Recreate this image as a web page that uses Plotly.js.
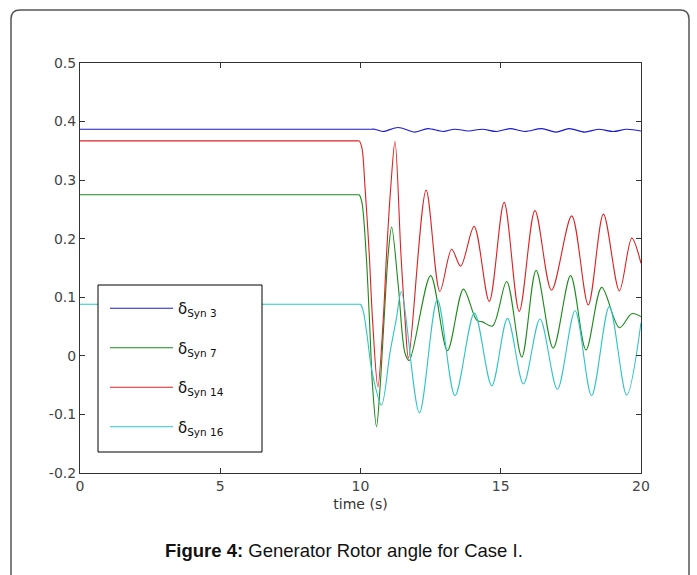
<!DOCTYPE html>
<html>
<head>
<meta charset="utf-8">
<script src="https://cdn.plot.ly/plotly-3.0.1.min.js"></script>
<style>html,body{margin:0;padding:0;background:#fff;}#chart{width:697px;height:575px;}</style>
</head>
<body>
<div id="chart"></div>
<script>
// ---- data ----
const seriesNames = ["δ<sub>Syn 3</sub>", "δ<sub>Syn 7</sub>", "δ<sub>Syn 14</sub>", "δ<sub>Syn 16</sub>"];

const tSyn3 = [0, 5, 10.4, 10.5, 10.8, 11.34, 11.94, 12.4, 12.95, 13.35, 13.85, 14.35, 14.85, 15.33, 15.86, 16.46, 16.97, 17.44, 18.0, 18.48, 19.01, 19.49, 20];
const dSyn3 = [0.387, 0.387, 0.387, 0.387, 0.383, 0.390, 0.382, 0.388, 0.383, 0.387, 0.384, 0.387, 0.383, 0.388, 0.383, 0.388, 0.382, 0.388, 0.382, 0.387, 0.383, 0.387, 0.384];

const tSyn7 = [0, 5, 9.9, 9.95, 10.05, 10.2, 10.32, 10.43, 10.57, 10.7, 10.84, 10.99, 11.11, 11.35, 11.59, 11.74, 12.5, 13.1, 13.67, 14.14, 14.35, 14.71, 15.21, 15.75, 16.26, 16.87, 17.49, 18.04, 18.6, 19.23, 19.67, 20];
const dSyn7 = [0.275, 0.275, 0.275, 0.275, 0.262, 0.175, 0.061, -0.052, -0.121, -0.052, 0.061, 0.175, 0.220, 0.118, 0.004, -0.008, 0.137, 0.009, 0.114, 0.061, 0.058, 0.051, 0.127, -0.002, 0.146, 0.013, 0.137, 0.010, 0.117, 0.048, 0.072, 0.067];

const tSyn14 = [0, 5, 9.9, 9.95, 10.05, 10.16, 10.31, 10.43, 10.62, 10.81, 10.93, 11.08, 11.23, 11.44, 11.59, 11.71, 12.34, 12.83, 13.25, 13.57, 14.05, 14.59, 15.12, 15.66, 16.22, 16.81, 17.53, 18.12, 18.66, 19.23, 19.67, 20];
const dSyn14 = [0.367, 0.367, 0.367, 0.367, 0.355, 0.289, 0.175, 0.061, -0.053, 0.061, 0.175, 0.289, 0.366, 0.175, 0.061, -0.004, 0.283, 0.110, 0.182, 0.153, 0.221, 0.093, 0.262, 0.076, 0.248, 0.112, 0.239, 0.087, 0.242, 0.111, 0.201, 0.158];

const tSyn16 = [0, 5, 9.95, 10.0, 10.1, 10.24, 10.4, 10.75, 11.05, 11.27, 11.46, 12.1, 12.74, 13.37, 14.06, 14.68, 15.24, 15.81, 16.4, 17.02, 17.65, 18.24, 18.87, 19.49, 20];
const dSyn16 = [0.088, 0.088, 0.088, 0.088, 0.076, 0.033, -0.024, -0.084, 0.005, 0.061, 0.110, -0.097, 0.096, -0.068, 0.073, -0.051, 0.064, -0.048, 0.063, -0.057, 0.077, -0.068, 0.084, -0.067, 0.057];

const xTickVals = [0, 5, 10, 15, 20];
const xTickText = ["0", "5", "10", "15", "20"];
const yTickVals = [-0.2, -0.1, 0, 0.1, 0.2, 0.3, 0.4, 0.5];
const yTickText = ["-0.2", "-0.1", "0", "0.1", "0.2", "0.3", "0.4", "0.5"];

const colors = ["#1a1ad0", "#1a8a1a", "#e02020", "#2ec4c4"];

// ---- build traces ----
const xs = [tSyn3, tSyn7, tSyn14, tSyn16];
const ys = [dSyn3, dSyn7, dSyn14, dSyn16];
const traces = xs.map((x, i) => ({
  x: x, y: ys[i], type: "scatter", mode: "lines", name: seriesNames[i],
  legendgroup: "g" + i,
  line: {color: colors[i], width: 1.1, shape: "spline", smoothing: 0.9}
}));

// pixel -> paper helpers
const W = 697, H = 575, ML = 80, MR = 56, MT = 63, MB = 102;
const pw = W - ML - MR, ph = H - MT - MB;
const px = v => (v - ML) / pw;
const py = v => (H - MB - v) / ph;

// outer rounded frame
const fl = 11, fr = 689, ft = 10, fb = 590, rad = 9;
const framePath =
  `M ${px(fl)} ${py(fb)} L ${px(fl)} ${py(ft + rad)} Q ${px(fl)} ${py(ft)} ${px(fl + rad)} ${py(ft)} ` +
  `L ${px(fr - rad)} ${py(ft)} Q ${px(fr)} ${py(ft)} ${px(fr)} ${py(ft + rad)} L ${px(fr)} ${py(fb)}`;

const axisFont = {family: "DejaVu Sans", size: 14, color: "#444"};

const layout = {
  width: W, height: H,
  margin: {l: ML, r: MR, t: MT, b: MB, pad: 0},
  paper_bgcolor: "#fff", plot_bgcolor: "#fff",
  showlegend: true,
  legend: {
    x: px(105), y: py(292), xanchor: "left", yanchor: "top",
    bgcolor: "rgba(0,0,0,0)", borderwidth: 0,
    font: {family: "DejaVu Sans", size: 15, color: "#111"},
    tracegroupgap: 17, itemwidth: 63
  },
  xaxis: {
    range: [0, 20], tickvals: xTickVals, ticktext: xTickText,
    ticks: "inside", ticklen: 5, tickcolor: "#333", showline: true, linecolor: "#333", linewidth: 1,
    mirror: "ticks", showgrid: false, zeroline: false, tickfont: axisFont,
    title: {text: "time (s)", font: {family: "DejaVu Sans", size: 14, color: "#333"}, standoff: 6},
    automargin: false
  },
  yaxis: {
    range: [-0.2, 0.5], tickvals: yTickVals, ticktext: yTickText,
    ticks: "inside", ticklen: 5, tickcolor: "#333", showline: true, linecolor: "#333", linewidth: 1,
    mirror: "ticks", showgrid: false, zeroline: false, tickfont: axisFont, automargin: false
  },
  shapes: [
    {type: "path", xref: "paper", yref: "paper", path: framePath, line: {color: "#555", width: 1.5}, layer: "above"},
    {type: "rect", xref: "paper", yref: "paper", x0: px(98), x1: px(262), y0: py(452), y1: py(285),
     fillcolor: "#fff", line: {color: "#000", width: 1}, layer: "above"}
  ],
  annotations: [{
    xref: "paper", yref: "paper", x: px(343.5), y: py(550), xanchor: "center", yanchor: "middle",
    showarrow: false, text: "<b>Figure 4:</b> Generator Rotor angle for Case I.",
    font: {family: "Liberation Sans, Arial, sans-serif", size: 18.5, color: "#111"}
  }]
};

Plotly.newPlot("chart", traces, layout, {staticPlot: true, displayModeBar: false});
</script>
</body>
</html>
